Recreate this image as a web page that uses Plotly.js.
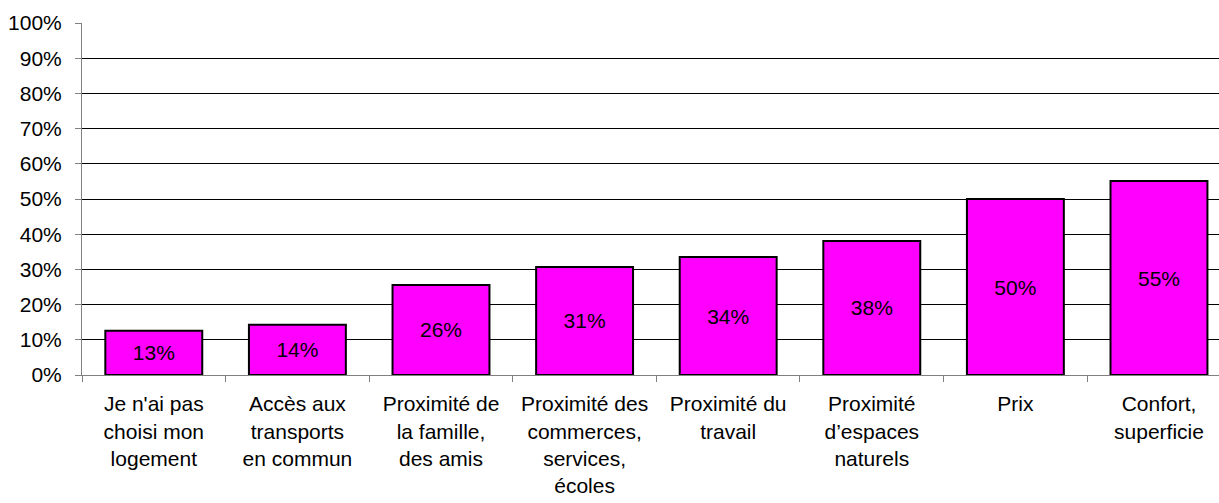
<!DOCTYPE html>
<html>
<head>
<meta charset="utf-8">
<script src="https://cdn.plot.ly/plotly-3.0.1.min.js"></script>
<style>html,body{margin:0;padding:0;background:#fff;}#chart{width:1219px;height:503px;}</style>
</head>
<body>
<div id="chart"></div>
<script>
const categories = [
  "Je n'ai pas<br>choisi mon<br>logement",
  "Accès aux<br>transports<br>en commun",
  "Proximité de<br>la famille,<br>des amis",
  "Proximité des<br>commerces,<br>services,<br>écoles",
  "Proximité du<br>travail",
  "Proximité<br>d’espaces<br>naturels",
  "Prix",
  "Confort,<br>superficie"
];
const values = [12.6, 14.3, 25.6, 30.7, 33.5, 38.1, 50.0, 55.1];
const valueLabels = ["13%", "14%", "26%", "31%", "34%", "38%", "50%", "55%"];
const yTickValues = [0, 10, 20, 30, 40, 50, 60, 70, 80, 90, 100];
const yTickLabels = ["0%", "10%", "20%", "30%", "40%", "50%", "60%", "70%", "80%", "90%", "100%"];

const font = "Liberation Sans, Arial, sans-serif";
const fs = 21;

Plotly.newPlot("chart", [{
  type: "bar",
  x: categories,
  y: values,
  text: valueLabels,
  textposition: "inside",
  insidetextanchor: "middle",
  textangle: 0,
  textfont: {family: font, size: fs, color: "#000"},
  marker: {color: "#FF00FF", line: {color: "#000", width: 2}},
  hoverinfo: "skip"
}], {
  width: 1219, height: 503,
  margin: {l: 82, r: 0, t: 23, b: 128},
  paper_bgcolor: "#fff", plot_bgcolor: "#fff",
  bargap: 0.325,
  showlegend: false,
  font: {family: font, size: fs, color: "#000"},
  xaxis: {
    type: "category",
    range: [-0.5, 7.418],
    tickson: "boundaries",
    ticks: "outside", ticklen: 6, tickcolor: "#808080",
    showline: true, linecolor: "#808080", linewidth: 1,
    showgrid: false, zeroline: false,
    ticklabelstandoff: 10,
    tickfont: {family: font, size: fs, color: "#000"},
    fixedrange: true
  },
  yaxis: {
    range: [0, 100],
    tickmode: "array",
    tickvals: yTickValues,
    ticktext: yTickLabels,
    ticks: "outside", ticklen: 6, tickcolor: "#808080",
    showline: true, linecolor: "#808080", linewidth: 1,
    showgrid: true, gridcolor: "#000", gridwidth: 1,
    zeroline: false,
    ticklabelstandoff: 9,
    tickfont: {family: font, size: fs, color: "#000"},
    fixedrange: true
  }
}, {displayModeBar: false, staticPlot: true});
</script>
</body>
</html>
